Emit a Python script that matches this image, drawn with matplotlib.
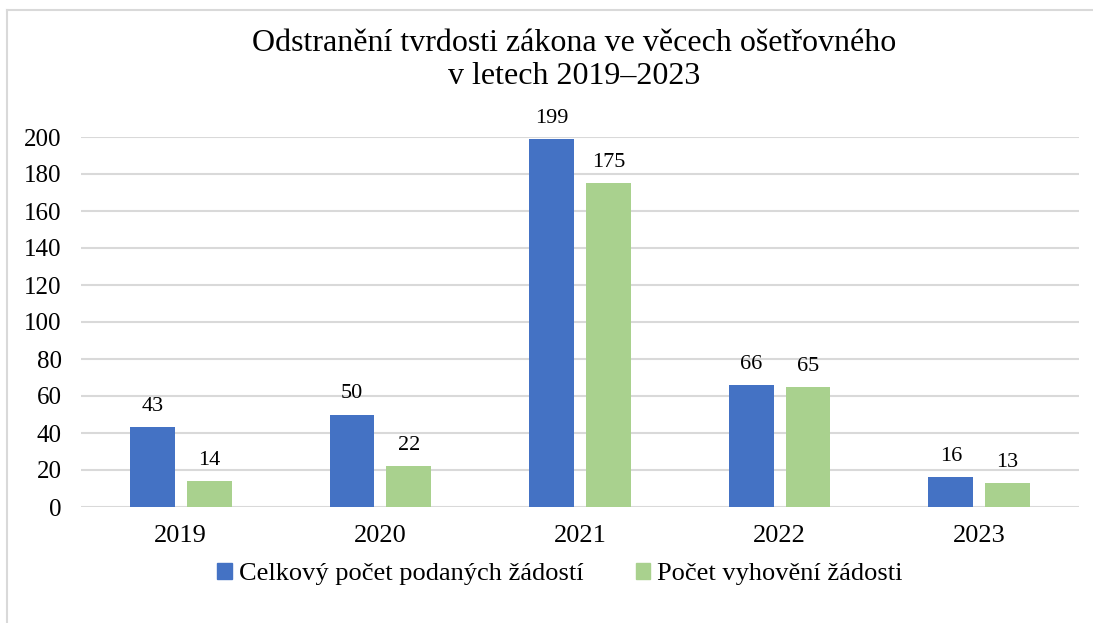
import matplotlib
matplotlib.use("Agg")
import matplotlib.pyplot as plt
from matplotlib.lines import Line2D
from matplotlib.patches import Patch
import numpy as np

years = ["2019", "2020", "2021", "2022", "2023"]
celkem = [43, 50, 199, 66, 16]
vyhoveno = [14, 22, 175, 65, 13]
series_names = ["Celkový počet podaných žádostí", "Počet vyhovění žádosti"]
title = "Odstranění tvrdosti zákona ve věcech ošetřovného\nv letech 2019–2023"
yticks = [0, 20, 40, 60, 80, 100, 120, 140, 160, 180, 200]

plt.rcParams['font.family'] = ['Liberation Serif', 'DejaVu Serif']

W, H = 1093, 623
fig = plt.figure(figsize=(W / 100, H / 100), dpi=100)
ax = fig.add_axes([81 / W, 1 - 507 / H, (1079 - 81) / W, (507 - 137) / H])

blue = "#4472C4"
green = "#A9D18E"
x = np.arange(len(years))
bw = 0.225
off = 0.1425
b1 = ax.bar(x - off, celkem, bw, color=blue, zorder=3)
b2 = ax.bar(x + off, vyhoveno, bw, color=green, zorder=3)
for bars in (b1, b2):
    for r in bars:
        ax.annotate(f"{int(r.get_height())}", (r.get_x() + r.get_width() / 2, r.get_height()),
                    xytext=(0, 8), textcoords="offset points", ha="center", va="bottom",
                    fontsize=16, annotation_clip=False)

ax.set_xlim(-0.5, len(years) - 0.5)
ax.set_ylim(0, 200)
ax.set_yticks(yticks)
ax.set_xticks(x)
ax.set_xticklabels(years)
ax.tick_params(axis="both", length=0)
ax.tick_params(axis="x", pad=13, labelsize=19)
ax.tick_params(axis="y", pad=14, labelsize=18)
ax.grid(axis="y", color="#d9d9d9", linewidth=1.5, zorder=0)
for s in ax.spines.values():
    s.set_visible(False)

fig.text(574 / W, 1 - 60 / H, title, ha="center", va="center", fontsize=23, linespacing=1.22)

handles = [Patch(color=blue), Patch(color=green)]
fig.legend(handles, series_names, loc="center", bbox_to_anchor=(560 / W, 1 - 574 / H),
           ncol=2, frameon=False, fontsize=19, handlelength=0.55, handleheight=0.55,
           handletextpad=0.25, columnspacing=2.0)

# outer border (partially visible)
fig.add_artist(Line2D([7 / W, 1], [1 - 10 / H, 1 - 10 / H], color="#d9d9d9", linewidth=1.5))
fig.add_artist(Line2D([7 / W, 7 / W], [0, 1 - 10 / H], color="#d9d9d9", linewidth=1.5))

fig.savefig("out.png", dpi=100)
